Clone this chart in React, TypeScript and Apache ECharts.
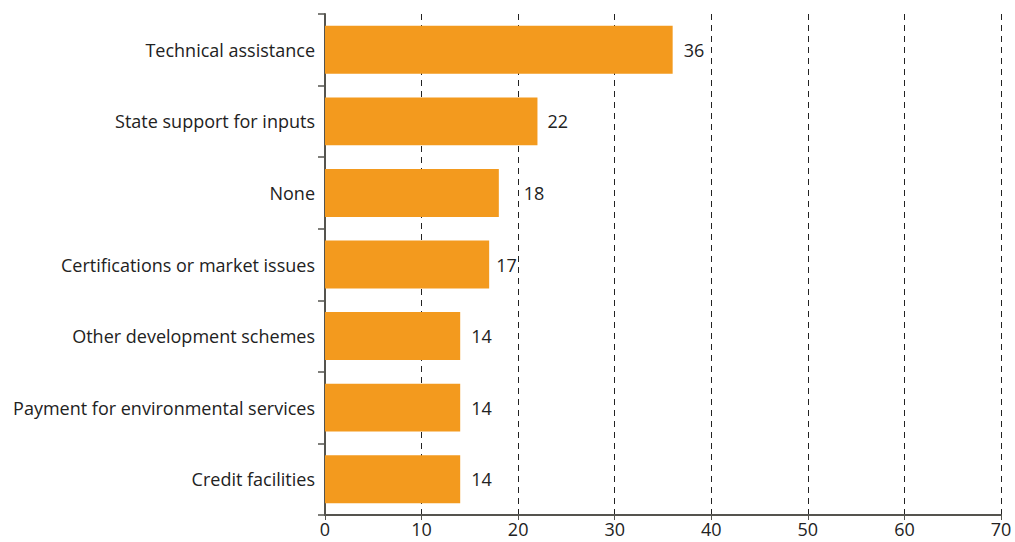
import React, { useEffect, useRef } from "react";
import * as echarts from "echarts";

const categories = [
  "Technical assistance",
  "State support for inputs",
  "None",
  "Certifications or market issues",
  "Other development schemes",
  "Payment for environmental services",
  "Credit facilities",
];
const values = [36, 22, 18, 17, 14, 14, 14];
const labelDistances = [11, 10, 25, 7, 11, 11, 11];
const xMin = 0;
const xMax = 70;
const xInterval = 10;

export default function App() {
  const ref = useRef<HTMLDivElement>(null);
  useEffect(() => {
    if (!ref.current) return;
    const chart = echarts.init(ref.current, null, { renderer: "svg" });
    const font = "'Open Sans', 'Noto Sans', sans-serif";
    chart.setOption({
      animation: false,
      grid: { left: 325, right: 14, top: 14, bottom: 27, containLabel: false },
      xAxis: {
        type: "value",
        min: xMin,
        max: xMax,
        interval: xInterval,
        axisLine: { show: true, lineStyle: { color: "#55544f", width: 2 } },
        axisTick: { show: true, length: 5, lineStyle: { color: "#55544f", width: 1 } },
        axisLabel: { color: "#222", fontSize: 18, fontFamily: font, margin: 5 },
        splitLine: {
          show: true,
          lineStyle: { color: "#222", type: [6, 5], width: 1 },
        },
      },
      yAxis: {
        type: "category",
        data: categories,
        inverse: true,
        axisLine: { show: true, lineStyle: { color: "#55544f", width: 2 } },
        axisTick: { show: true, length: 7, lineStyle: { color: "#55544f", width: 1.5 } },
        axisLabel: { color: "#222", fontSize: 18, fontFamily: font, margin: 10 },
        splitLine: { show: false },
      },
      series: [
        {
          type: "bar",
          data: values.map((v, i) => ({
            value: v,
            label: { distance: labelDistances[i] },
          })),
          barWidth: "67%",
          itemStyle: { color: "#F39A1E" },
          label: {
            show: true,
            position: "right",
            distance: 10,
            color: "#222",
            fontSize: 18,
            fontFamily: font,
          },
        },
      ],
    });
    return () => chart.dispose();
  }, []);
  return <div ref={ref} style={{ width: 1015, height: 542, position: "absolute", left: 0, top: 0 }} />;
}
